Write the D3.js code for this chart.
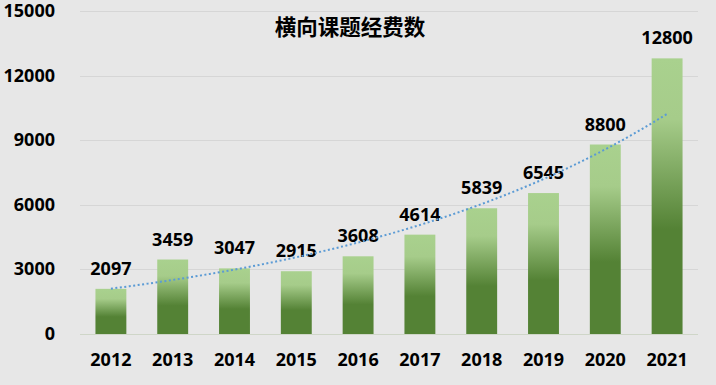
<!DOCTYPE html>
<html>
<head>
<meta charset="utf-8">
<script src="https://cdn.jsdelivr.net/npm/d3@7"></script>
<style>
	body { margin: 0; background: #e7e7e7; }
	svg { display: block; }
	.tick-label { font-family: "Noto Sans", "Noto Sans CJK SC", sans-serif; font-weight: bold; font-size: 18px; fill: #000; }
	.title { font-family: "Noto Sans CJK SC", sans-serif; font-weight: bold; font-size: 21.5px; fill: #000; }
</style>
</head>
<body>
<svg id="chart" width="716" height="385"></svg>
<script>

var years = ['2012', '2013', '2014', '2015', '2016', '2017', '2018', '2019', '2020', '2021'];
var funds = [2097, 3459, 3047, 2915, 3608, 4614, 5839, 6545, 8800, 12800];
var yTicks = [0, 3000, 6000, 9000, 12000, 15000];
var title = '横向课题经费数';

var plotLeft = 80, plotRight = 698, plotTop = 11, plotBottom = 334;

var svg = d3.select('#chart');
var g = svg.append('g');

var xScale = d3.scaleBand()
	.domain(years)
	.range([plotLeft, plotRight])
	.paddingInner(0.5)
	.paddingOuter(0.25);

var yScale = d3.scaleLinear()
	.domain([0, 15000])
	.range([plotBottom, plotTop]);

// bar gradient, light top -> dark bottom
var defs = svg.append('defs');
var grad = defs.append('linearGradient')
	.attr('id', 'barGrad')
	.attr('x1', 0).attr('y1', 0)
	.attr('x2', 0).attr('y2', 1);
grad.append('stop').attr('offset', '0%').attr('stop-color', '#a9d18e');
grad.append('stop').attr('offset', '22%').attr('stop-color', '#a6cc8a');
grad.append('stop').attr('offset', '62%').attr('stop-color', '#548235');
grad.append('stop').attr('offset', '100%').attr('stop-color', '#548235');

// gridlines
g.selectAll('.grid')
	.data(yTicks)
	.enter().append('line')
	.attr('x1', plotLeft)
	.attr('x2', plotRight)
	.attr('y1', function(d) { return Math.round(yScale(d)) + 0.5; })
	.attr('y2', function(d) { return Math.round(yScale(d)) + 0.5; })
	.attr('stroke', '#d6d6d6')
	.attr('stroke-width', 1);

// y tick labels
g.selectAll('.ylab')
	.data(yTicks)
	.enter().append('text')
	.attr('class', 'tick-label')
	.attr('x', 55)
	.attr('y', function(d) { return yScale(d) + 6; })
	.attr('text-anchor', 'end')
	.text(function(d) { return d; });

// bars
g.selectAll('.bar')
	.data(funds)
	.enter().append('rect')
	.attr('x', function(d, i) { return xScale(years[i]); })
	.attr('y', function(d) { return yScale(d); })
	.attr('width', xScale.bandwidth())
	.attr('height', function(d) { return yScale(0) - yScale(d); })
	.style('fill', 'url(#barGrad)');

// axis line
g.append('line')
	.attr('x1', plotLeft)
	.attr('x2', plotRight)
	.attr('y1', Math.round(yScale(0)) + 0.5)
	.attr('y2', Math.round(yScale(0)) + 0.5)
	.attr('stroke', '#cfd6c8')
	.attr('stroke-width', 1);

// x labels
g.selectAll('.xlab')
	.data(years)
	.enter().append('text')
	.attr('class', 'tick-label')
	.attr('x', function(d) { return xScale(d) + xScale.bandwidth() / 2; })
	.attr('y', 366)
	.attr('text-anchor', 'middle')
	.text(function(d) { return d; });

// value labels
g.selectAll('.vlab')
	.data(funds)
	.enter().append('text')
	.attr('class', 'tick-label')
	.attr('x', function(d, i) { return xScale(years[i]) + xScale.bandwidth() / 2; })
	.attr('y', function(d) { return yScale(d) - 14; })
	.attr('text-anchor', 'middle')
	.text(function(d) { return d; });

// exponential trendline (least squares on ln y)
var n = funds.length;
var xs = d3.range(1, n + 1);
var lys = funds.map(function(v) { return Math.log(v); });
var mx = d3.mean(xs), my = d3.mean(lys);
var sxy = 0, sxx = 0;
for (var i = 0; i < n; i++) {
	sxy += (xs[i] - mx) * (lys[i] - my);
	sxx += (xs[i] - mx) * (xs[i] - mx);
}
var b = sxy / sxx;
var a = my - b * mx;

var trendPts = d3.range(0, n - 1 + 0.001, 0.1).map(function(t) {
	return [xScale(years[0]) + xScale.bandwidth() / 2 + t * xScale.step(),
		yScale(Math.exp(a + b * (t + 1)))];
});

g.append('path')
	.attr('d', d3.line().curve(d3.curveMonotoneX)(trendPts))
	.style('fill', 'none')
	.attr('stroke', '#5b9bd5')
	.attr('stroke-width', 2)
	.style('stroke-dasharray', '2,2.5');

// title
g.append('text')
	.attr('class', 'title')
	.attr('x', 350)
	.attr('y', 35)
	.attr('text-anchor', 'middle')
	.text(title);

</script>
</body>
</html>
